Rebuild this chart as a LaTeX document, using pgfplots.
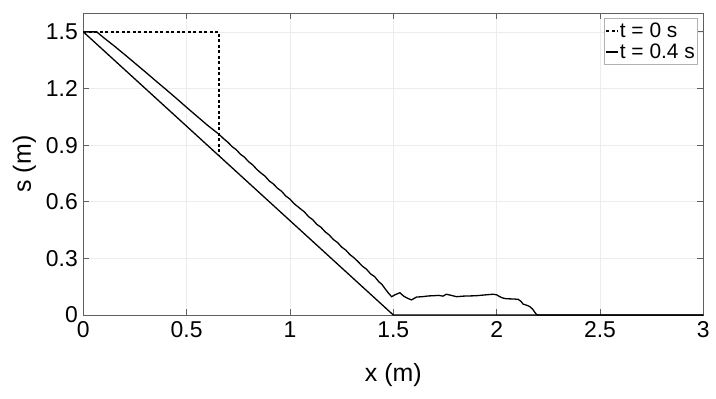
\documentclass[border=0pt]{standalone}
\usepackage{fontspec}
\setmainfont{Liberation Sans}
\usepackage{pgfplots}
\pgfplotsset{compat=1.18}
\begin{document}
\begin{tikzpicture}
\begin{axis}[
  at={(0,0)}, anchor=south west,
  scale only axis, width=620bp, height=302bp,
  xmin=0, xmax=3, ymin=0, ymax=1.6,
  xtick={0,0.5,1,1.5,2,2.5,3}, xticklabels={0,0.5,1,1.5,2,2.5,3},
  ytick={0,0.3,0.6,0.9,1.2,1.5}, yticklabels={0,0.3,0.6,0.9,1.2,1.5},
  /pgf/number format/assume math mode=true,
  grid=major, grid style={gray!15, line width=0.6bp},
  axis line style={gray!75!black, line width=0.9bp},
  tick style={gray!75!black, line width=0.8bp}, major tick length=6bp,
  ticklabel style={font=\fontsize{23}{26}\selectfont},
  xticklabel style={yshift=-3bp},
  yticklabel style={xshift=-2bp},
  xlabel={x (m)}, ylabel={s (m)},
  label style={font=\fontsize{25}{28}\selectfont},
  xlabel style={at={(axis description cs:0.5,-0.199)}, anchor=center},
  ylabel style={at={(axis description cs:-0.095,0.5)}, anchor=center},
  legend cell align=left,
  legend style={at={(axis description cs:1,1)}, anchor=north east, xshift=-6bp, yshift=-5bp,
    draw=gray!60, line width=0.8bp, font=\fontsize{21}{24}\selectfont, inner xsep=1bp, inner ysep=3bp,
    row sep=2bp, nodes={inner xsep=1bp, inner ysep=1.5bp}},
  legend image code/.code={\draw[#1] (0bp,0bp) -- (12bp,0bp);},
]
\addplot[black, line width=1.3bp, dash pattern=on 3bp off 2.5bp] coordinates {
(0,1.5) (0.656,1.5) (0.656,0.844)};
\addlegendentry{t = 0 s}
\addplot[black, line width=1.3bp] coordinates {
(0,1.5) (0.065,1.5) (0.10,1.468) (0.15,1.425) (0.20,1.380) (0.25,1.334) (0.30,1.288)
(0.35,1.241) (0.40,1.195) (0.45,1.148) (0.50,1.100) (0.55,1.053) (0.60,1.006) (0.656,0.958)
(0.68,0.933) (0.70,0.915) (0.72,0.892) (0.74,0.876) (0.76,0.852) (0.78,0.836) (0.80,0.812)
(0.82,0.795) (0.84,0.771) (0.86,0.752) (0.88,0.735) (0.90,0.710) (0.92,0.694) (0.94,0.671)
(0.96,0.655) (0.98,0.630) (1.00,0.614) (1.02,0.590) (1.048,0.565) (1.07,0.546) (1.09,0.521)
(1.11,0.505) (1.13,0.480) (1.15,0.465) (1.17,0.441) (1.19,0.424) (1.21,0.400) (1.23,0.384)
(1.25,0.360) (1.27,0.344) (1.29,0.320) (1.31,0.303) (1.33,0.282) (1.35,0.259) (1.37,0.243)
(1.39,0.218) (1.41,0.203) (1.43,0.176) (1.445,0.162) (1.459,0.141) (1.475,0.118) (1.492,0.097)
(1.51,0.108) (1.532,0.118) (1.55,0.100) (1.57,0.088) (1.588,0.080) (1.612,0.095) (1.64,0.097)
(1.67,0.101) (1.693,0.102) (1.72,0.104) (1.74,0.100) (1.757,0.110) (1.78,0.104) (1.806,0.097)
(1.84,0.100) (1.87,0.101) (1.90,0.102) (1.94,0.106) (1.983,0.110) (2.00,0.107) (2.015,0.097)
(2.03,0.090) (2.047,0.086) (2.08,0.085) (2.104,0.083) (2.118,0.072) (2.128,0.058) (2.15,0.050)
(2.161,0.044) (2.175,0.030) (2.19,0.006) (2.198,0) (3,0)};
\addlegendentry{t = 0.4 s}
\addplot[black, line width=1.3bp, forget plot] coordinates {(0,1.5) (1.5,0) (3,0)};
\end{axis}
\pgfresetboundingbox
\path (-83.3bp,-84bp) rectangle (632.7bp,315bp);
\end{tikzpicture}
\end{document}
